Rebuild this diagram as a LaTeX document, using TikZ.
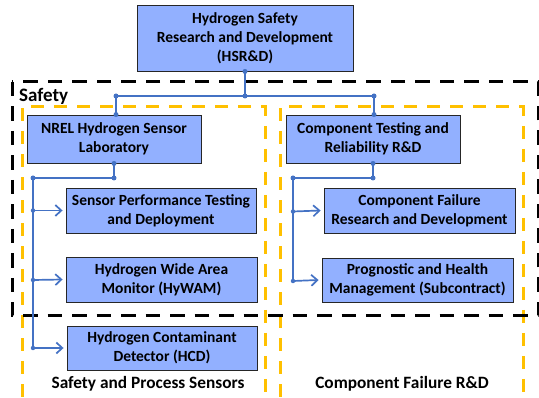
\documentclass[tikz,border=0pt]{standalone}
\usepackage{fontspec}
\setmainfont{Carlito}
\usetikzlibrary{arrows.meta}
\definecolor{boxfill}{RGB}{146,176,255}
\definecolor{conn}{RGB}{68,114,196}
\definecolor{ylw}{RGB}{255,192,0}
\tikzset{
  box/.style={draw=black!85, line width=0.9pt, fill=boxfill, align=center,
    font=\fontsize{15.5}{19}\selectfont\bfseries, inner sep=2pt},
  ydash/.style={draw=ylw, line width=3pt, dash pattern=on 13pt off 10pt},
  kdash/.style={draw=black, line width=3pt, dash pattern=on 14.5pt off 10pt},
  link/.style={draw=conn, line width=1.7pt},
  arr/.style={draw=conn, line width=1.7pt, -{Straight Barb[length=6pt,width=11pt]}},
  dot/.style={circle, fill=conn, inner sep=0pt, minimum size=5pt},
  lbl/.style={font=\fontsize{17.3}{19}\selectfont\bfseries, inner sep=0pt}
}
\begin{document}
\begin{tikzpicture}[x=1pt,y=-1pt]
\useasboundingbox (0,0) rectangle (539,398);
% group frames
\draw[ydash] (22,420) -- (22,107) -- (265,107) -- (265,420);
\draw[ydash] (280,420) -- (280,107) -- (523,107) -- (523,420);
\draw[kdash] (12,82) rectangle (538,316);
\node[lbl, font=\fontsize{19}{20}\selectfont\bfseries, anchor=west] (safety) at (19,96) {Safety};
% boxes
\node[box, minimum width=216pt, minimum height=66pt] (hsrd) at (245,38) {Hydrogen Safety\\Research and Development\\(HSR\&D)};
\node[box, minimum width=174pt, minimum height=48pt] (nrel) at (114,139) {NREL Hydrogen Sensor\\Laboratory};
\node[box, minimum width=174pt, minimum height=48pt] (ctr) at (373,139) {Component Testing and\\Reliability R\&D};
\node[box, minimum width=190pt, minimum height=45pt] (spt) at (161,210.5) {Sensor Performance Testing\\and Deployment};
\node[box, minimum width=191pt, minimum height=45pt] (hywam) at (161.5,279.5) {Hydrogen Wide Area\\Monitor (HyWAM)};
\node[box, minimum width=190pt, minimum height=44pt] (hcd) at (162,348) {Hydrogen Contaminant\\Detector (HCD)};
\node[box, minimum width=191pt, minimum height=45pt] (cfr) at (419.5,210.5) {Component Failure\\Research and Development};
\node[box, minimum width=191pt, minimum height=44pt] (phm) at (417.5,280) {Prognostic and Health\\Management (Subcontract)};
% labels
\node[lbl] (lsps) at (148,384) {Safety and Process Sensors};
\node[lbl] (lcf) at (402,384) {Component Failure R\&D};
% connectors top
\coordinate (hub) at (245,96);
\coordinate (hl) at (116,96);
\coordinate (hr) at (374,96);
\draw[link] (hsrd.south) -- (hub);
\draw[link] (hl) -- (hr);
\draw[link] (hl) -- (hl |- nrel.north);
\draw[link] (hr) -- (hr |- ctr.north);
\foreach \p in {hsrd.south, hub, hl, hr} \node[dot] at (\p) {};
\node[dot] at (hl |- nrel.north) {};
\node[dot] at (hr |- ctr.north) {};
% left tree
\coordinate (lc) at (114,178);
\coordinate (lt) at (33,178);
\coordinate (a1) at (33,210.5);
\coordinate (a2) at (33,280);
\coordinate (a3) at (33,348);
\draw[link] (nrel.south) -- (lc) -- (lt) -- (a3);
\draw[arr] (a1) -- ([xshift=-3pt]spt.west);
\draw[arr] (a2) -- ([xshift=-3pt]hywam.west);
\draw[arr] (a3) -- ([xshift=-3pt]hcd.west);
\foreach \p in {nrel.south, lc, lt} \node[dot] at (\p) {};
\foreach \p in {a1, a2, a3} \node[dot, minimum size=4.5pt] at (\p) {};
% right tree
\coordinate (rc) at (373,178);
\coordinate (rt) at (293,178);
\coordinate (b1) at (293,211.5);
\coordinate (b2) at (293,281);
\draw[link] (ctr.south) -- (rc) -- (rt) -- (b2);
\draw[arr] (b1) -- ([xshift=-3pt]cfr.west);
\draw[arr] (b2) -- ([xshift=-3pt]phm.west);
\foreach \p in {ctr.south, rc, rt} \node[dot] at (\p) {};
\foreach \p in {b1, b2} \node[dot, minimum size=4.5pt] at (\p) {};
\end{tikzpicture}
\end{document}
